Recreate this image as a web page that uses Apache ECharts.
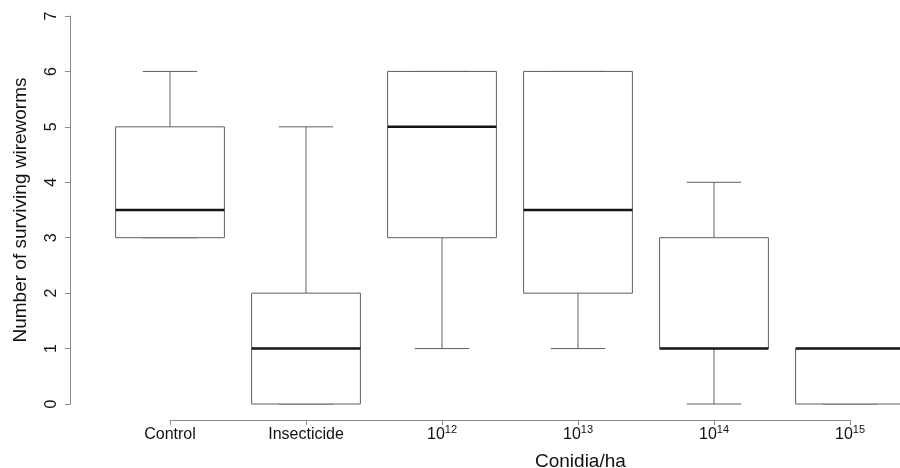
<!DOCTYPE html>
<html>
<head>
<meta charset="utf-8">
<script src="https://cdn.jsdelivr.net/npm/echarts@6/dist/echarts.min.js"></script>
<style>html,body{margin:0;padding:0;background:#fff;}#c{width:900px;height:468px;}</style>
</head>
<body>
<div id="c"></div>
<script>
const categories = ['Control', 'Insecticide', '10^12', '10^13', '10^14', '10^15'];
const whiskerLow  = [3,   0, 1, 1,   0, 0];
const q1          = [3,   0, 3, 2,   1, 0];
const median      = [3.5, 1, 5, 3.5, 1, 1];
const q3          = [5,   2, 6, 6,   3, 1];
const whiskerHigh = [6,   5, 6, 6,   4, 1];
const yTitle = 'Number of surviving wireworms';
const xTitle = 'Conidia/ha';

const FONT = 'Liberation Sans, Arial, sans-serif';
const LINE = '#5e5e5e';
const AXIS = '#8a8a8a';

const chart = echarts.init(document.getElementById('c'), null, {renderer: 'canvas'});
const plotLeft = 70, firstCenter = 170, step = 136, plotWidth = 830;
const xMin = -(firstCenter - plotLeft) / step;
const xMax = xMin + plotWidth / step;

function fmtLabel(v) {
  const s = categories[Math.round(v)];
  if (s === undefined) return '';
  const p = s.split('^');
  if (p.length === 2) return '{b|' + p[0] + '}{sup|' + p[1] + '}';
  return '{b|' + s + '}';
}

chart.setOption({
  animation: false,
  backgroundColor: '#fff',
  title: {
    text: xTitle, left: 530, top: 447,
    textStyle: {fontFamily: FONT, fontSize: 19, fontWeight: 'normal', color: '#111'}
  },
  grid: [
    {left: plotLeft, right: 0, top: 16, bottom: 64},
    {left: firstCenter, right: 50, top: 16, bottom: 48}
  ],
  xAxis: [
    {type: 'value', gridIndex: 0, min: xMin, max: xMax, show: false},
    {type: 'value', gridIndex: 1, min: 0, max: categories.length - 1, interval: 1,
     axisLine: {show: true, onZero: false, lineStyle: {color: AXIS, width: 1}},
     axisTick: {show: true, length: 5, lineStyle: {color: AXIS}},
     splitLine: {show: false},
     axisLabel: {
       margin: 3, formatter: fmtLabel, color: '#111',
       rich: {
         b: {fontFamily: FONT, fontSize: 16, lineHeight: 20, color: '#111', verticalAlign: 'bottom'},
         sup: {fontFamily: FONT, fontSize: 11, lineHeight: 12, color: '#111', verticalAlign: 'bottom', padding: [0, 0, 8, 0]}
       }
     }}
  ],
  yAxis: [
    {type: 'value', gridIndex: 0, min: 0, max: 7, interval: 1,
     name: yTitle, nameLocation: 'middle', nameRotate: 90, nameGap: 40,
     nameTextStyle: {fontFamily: FONT, fontSize: 19, color: '#111'},
     axisLine: {show: true, onZero: false, lineStyle: {color: AXIS, width: 1}},
     axisTick: {show: true, length: 5, lineStyle: {color: AXIS}},
     splitLine: {show: false},
     axisLabel: {rotate: 90, margin: 10, fontFamily: FONT, fontSize: 16, color: '#111'}},
    {type: 'value', gridIndex: 1, min: 0, max: 7, show: false}
  ],
  series: [{
    type: 'custom',
    xAxisIndex: 0, yAxisIndex: 0,
    clip: false,
    encode: {x: 0, y: [1, 2, 3, 4, 5]},
    data: categories.map((c, i) => [i, whiskerLow[i], q1[i], median[i], q3[i], whiskerHigh[i]]),
    renderItem: function (params, api) {
      const i = api.value(0);
      const cx = api.coord([i, 0])[0];
      const yLo = api.coord([i, api.value(1)])[1];
      const yQ1 = api.coord([i, api.value(2)])[1];
      const yMed = api.coord([i, api.value(3)])[1];
      const yQ3 = api.coord([i, api.value(4)])[1];
      const yHi = api.coord([i, api.value(5)])[1];
      const half = api.size([0.8, 0])[0] / 2;
      const cap = half / 2;
      const ls = {stroke: LINE, lineWidth: 1, fill: null};
      return {
        type: 'group',
        children: [
          {type: 'line', shape: {x1: cx, y1: yQ3, x2: cx, y2: yHi}, style: ls},
          {type: 'line', shape: {x1: cx, y1: yQ1, x2: cx, y2: yLo}, style: ls},
          {type: 'line', shape: {x1: cx - cap, y1: yHi, x2: cx + cap, y2: yHi}, style: ls},
          {type: 'line', shape: {x1: cx - cap, y1: yLo, x2: cx + cap, y2: yLo}, style: ls},
          {type: 'rect', shape: {x: cx - half, y: yQ3, width: half * 2, height: yQ1 - yQ3},
           style: {fill: '#fff', stroke: LINE, lineWidth: 1}},
          {type: 'line', shape: {x1: cx - half, y1: yMed, x2: cx + half, y2: yMed},
           style: {stroke: '#151515', lineWidth: 2.5}}
        ]
      };
    }
  }]
});
</script>
</body>
</html>
